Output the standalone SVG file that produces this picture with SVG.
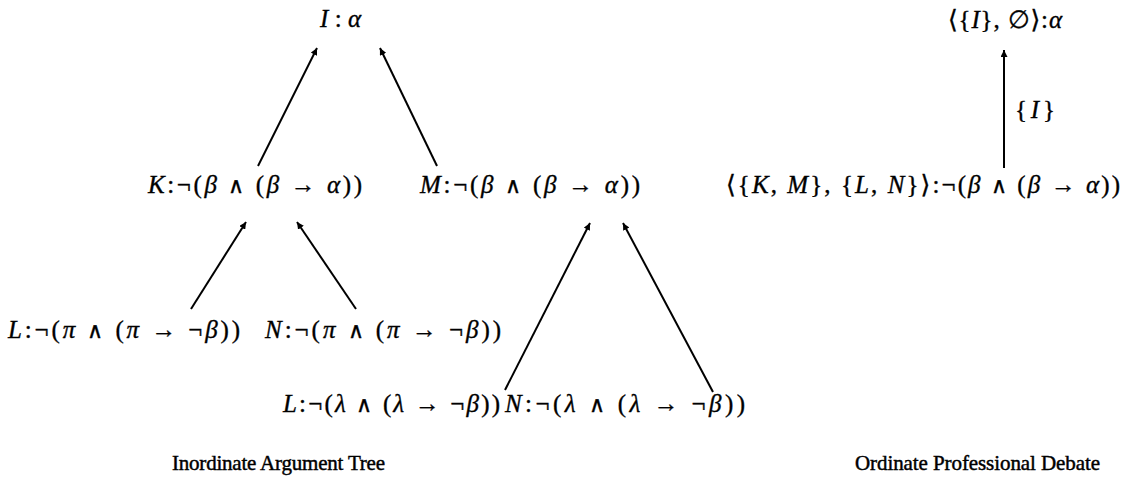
<svg xmlns="http://www.w3.org/2000/svg" width="1125" height="491" viewBox="0 0 1125 491">
<style>
text{font-family:"Liberation Serif","DejaVu Serif",serif;font-size:25px;fill:#000;stroke:#000;stroke-width:0.35}
.i{font-style:italic}
.w{font-family:"DejaVu Sans",sans-serif;font-weight:200;font-size:22px}
.cap{font-size:21px;stroke-width:0.45}
.edge{stroke:#000;stroke-width:2;fill:none;marker-end:url(#ah)}
</style>
<defs>
<marker id="ah" viewBox="0 0 10 10" refX="10" refY="5" markerWidth="7" markerHeight="7" markerUnits="userSpaceOnUse" orient="auto">
<path d="M0,0 L10,5 L0,10 z" fill="#000"/>
</marker>
</defs>
<rect width="1125" height="491" fill="#fff"/>
<g id="connectors">
<line class="edge" x1="258" y1="166" x2="317" y2="48"/>
<line class="edge" x1="437" y1="166" x2="380" y2="48"/>
<line class="edge" x1="191" y1="309" x2="246" y2="222"/>
<line class="edge" x1="356" y1="309" x2="297" y2="222"/>
<line class="edge" x1="505" y1="390" x2="590" y2="223"/>
<line class="edge" x1="713" y1="392" x2="623" y2="223"/>
<line class="edge" x1="1004" y1="168" x2="1004" y2="50"/>
</g>
<g id="nI"><text x="320" y="27" textLength="41"><tspan class="i">I</tspan>:<tspan class="i">α</tspan></text></g>
<g id="nK"><text x="148" y="193" textLength="214"><tspan class="i">K</tspan>:¬(<tspan class="i">β</tspan> <tspan class="w">∧</tspan> (<tspan class="i">β</tspan> → <tspan class="i">α</tspan>))</text></g>
<g id="nM"><text x="420" y="193" textLength="220"><tspan class="i">M</tspan>:¬(<tspan class="i">β</tspan> <tspan class="w">∧</tspan> (<tspan class="i">β</tspan> → <tspan class="i">α</tspan>))</text></g>
<g id="nL1"><text x="8" y="338" textLength="232"><tspan class="i">L</tspan>:¬(<tspan class="i">π</tspan> <tspan class="w">∧</tspan> (<tspan class="i">π</tspan> → ¬<tspan class="i">β</tspan>))</text></g>
<g id="nN1"><text x="265" y="338" textLength="236"><tspan class="i">N</tspan>:¬(<tspan class="i">π</tspan> <tspan class="w">∧</tspan> (<tspan class="i">π</tspan> → ¬<tspan class="i">β</tspan>))</text></g>
<g id="nL2"><text x="283" y="412" textLength="217"><tspan class="i">L</tspan>:¬(<tspan class="i">λ</tspan> <tspan class="w">∧</tspan> (<tspan class="i">λ</tspan> → ¬<tspan class="i">β</tspan>))</text></g>
<g id="nN2"><text x="505" y="412" textLength="240"><tspan class="i">N</tspan>:¬(<tspan class="i">λ</tspan> <tspan class="w">∧</tspan> (<tspan class="i">λ</tspan> → ¬<tspan class="i">β</tspan>))</text></g>
<g id="nTop"><text x="948" y="28" textLength="114">⟨{<tspan class="i">I</tspan>}, ∅⟩:<tspan class="i">α</tspan></text></g>
<g id="nBottom"><text x="726" y="193" textLength="394">⟨{<tspan class="i">K</tspan>, <tspan class="i">M</tspan>}, {<tspan class="i">L</tspan>, <tspan class="i">N</tspan>}⟩:¬(<tspan class="i">β</tspan> <tspan class="w">∧</tspan> (<tspan class="i">β</tspan> → <tspan class="i">α</tspan>))</text></g>
<g id="edgeLabel"><text x="1015" y="118" textLength="40">{<tspan class="i">I</tspan>}</text></g>
<g id="captions">
<text class="cap" x="172" y="470" textLength="213">Inordinate Argument Tree</text>
<text class="cap" x="855" y="470" textLength="245">Ordinate Professional Debate</text>
</g>
</svg>
